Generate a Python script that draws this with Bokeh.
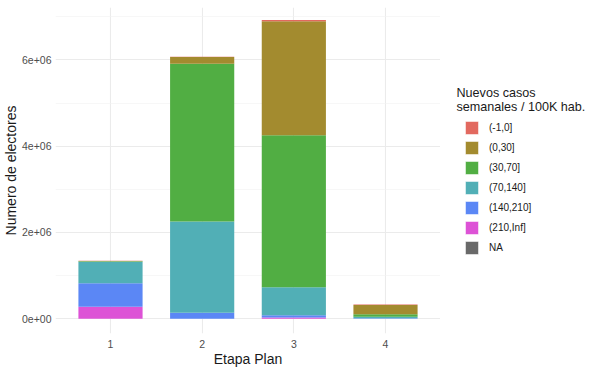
from bokeh.plotting import figure
from bokeh.layouts import row
from bokeh.models import (FixedTicker, Legend, LegendItem, ColumnDataSource, Range1d, Label)
from bokeh.embed import file_html
from bokeh.resources import INLINE

# ---- data ----
etapas = [1, 2, 3, 4]
etapa_labels = ["1", "2", "3", "4"]
categories = ["(-1,0]", "(0,30]", "(30,70]", "(70,140]", "(140,210]", "(210,Inf]", "NA"]
colors = ["#E2695F", "#A38B2F", "#51AE43", "#51AFB6", "#5B87F5", "#DD52D6", "#696969"]
legend_title = "Nuevos casos\nsemanales / 100K hab."

v_m1_0 = [5000, 5000, 25000, 12000]
v_0_30 = [5000, 156000, 2642000, 215000]
v_30_70 = [15000, 3654000, 3523000, 60000]
v_70_140 = [496000, 2116000, 652000, 30000]
v_140_210 = [547000, 139000, 50000, 15000]
v_210_inf = [278000, 0, 30000, 0]
v_na = [0, 0, 0, 0]

y_ticks = [0, 2000000, 4000000, 6000000]
y_tick_labels = ["0e+00", "2e+06", "4e+06", "6e+06"]
y_minor = [1000000, 3000000, 5000000, 7000000]

series = [v_m1_0, v_0_30, v_30_70, v_70_140, v_140_210, v_210_inf, v_na]

data = {"x": etapas}
for c, v in zip(categories, series):
    data[c] = v
src = ColumnDataSource(data)

FONT = "Liberation Sans"

p = figure(frame_width=385, frame_height=326, output_backend="svg", toolbar_location=None,
           x_range=(0.4, 4.6), y_range=(-341000, 7214000),
           min_border_left=0, min_border_right=0, min_border_top=7, min_border_bottom=0)
p.outline_line_color = None
p.background_fill_color = "white"

# stack: ggplot puts first level on top, so stack reversed
order = list(range(len(categories)))[::-1]
stack_cols = [categories[i] for i in order]
stack_cols_colors = [colors[i] for i in order]
p.vbar_stack(stack_cols, x="x", width=0.7, source=src,
             color=stack_cols_colors, line_color=None)

# axes
p.xaxis.ticker = FixedTicker(ticks=etapas)
p.xaxis.major_label_overrides = {e: l for e, l in zip(etapas, etapa_labels)}
p.yaxis.ticker = FixedTicker(ticks=y_ticks, minor_ticks=y_minor)
p.yaxis.major_label_overrides = {t: l for t, l in zip(y_ticks, y_tick_labels)}
for ax in (p.xaxis[0], p.yaxis[0]):
    ax.axis_line_color = None
    ax.major_tick_line_color = None
    ax.minor_tick_line_color = None
    ax.major_tick_out = 0
    ax.major_tick_in = 0
    ax.minor_tick_out = 0
    ax.minor_tick_in = 0
    ax.major_label_text_font = FONT
    ax.major_label_text_font_size = "10.5px"
    ax.major_label_text_color = "#4D4D4D"
    ax.axis_label_text_font = FONT
    ax.axis_label_text_font_size = "14px"
    ax.axis_label_text_font_style = "normal"
    ax.axis_label_text_color = "#1A1A1A"
p.xaxis.major_label_standoff = 6
p.xaxis.axis_label_standoff = 0
p.yaxis.major_label_standoff = 4
p.yaxis.axis_label_standoff = 0
p.xaxis.axis_label = "Etapa Plan"
p.yaxis.axis_label = "Numero de electores"

p.xgrid.grid_line_color = "#EBEBEB"
p.xgrid.grid_line_width = 1.1
p.ygrid.grid_line_color = "#EBEBEB"
p.ygrid.grid_line_width = 1.1
p.ygrid.minor_grid_line_color = "#F2F2F2"
p.ygrid.minor_grid_line_width = 0.6

# ---- legend panel (swatches from hidden renderers outside the visible range) ----
lg = figure(width=150, height=370, output_backend="svg", toolbar_location=None,
            x_range=Range1d(0, 1), y_range=Range1d(0, 1),
            x_axis_type=None, y_axis_type=None,
            min_border_left=0, min_border_right=0, min_border_top=0, min_border_bottom=0)
lg.outline_line_color = None
lg.xgrid.visible = False
lg.ygrid.visible = False
hidden = ColumnDataSource({"x": [5], "top": [5]})
items = []
for c, col in zip(categories, colors):
    r = lg.vbar(x="x", top="top", width=0.5, source=hidden,
                fill_color=col, line_color="white", line_width=1)
    items.append(LegendItem(label=c, renderers=[r], index=0))
legend = Legend(items=items, location=(23, 78),
                label_text_font=FONT, label_text_font_size="10px",
                label_text_color="#1A1A1A",
                glyph_width=17, glyph_height=17, label_height=17,
                label_standoff=9, spacing=3, padding=0, margin=0,
                border_line_color=None, background_fill_alpha=0)
lg.add_layout(legend, "center")

title_lbl = Label(x=16, y=235, x_units="screen", y_units="screen",
                  text=legend_title, text_font=FONT, text_font_size="12.6px",
                  text_color="#1A1A1A", text_baseline="middle", text_align="left",
                  text_line_height=1.0)
lg.add_layout(title_lbl)

layout = row(p, lg)
open("out.html", "w").write(file_html(layout, INLINE))
